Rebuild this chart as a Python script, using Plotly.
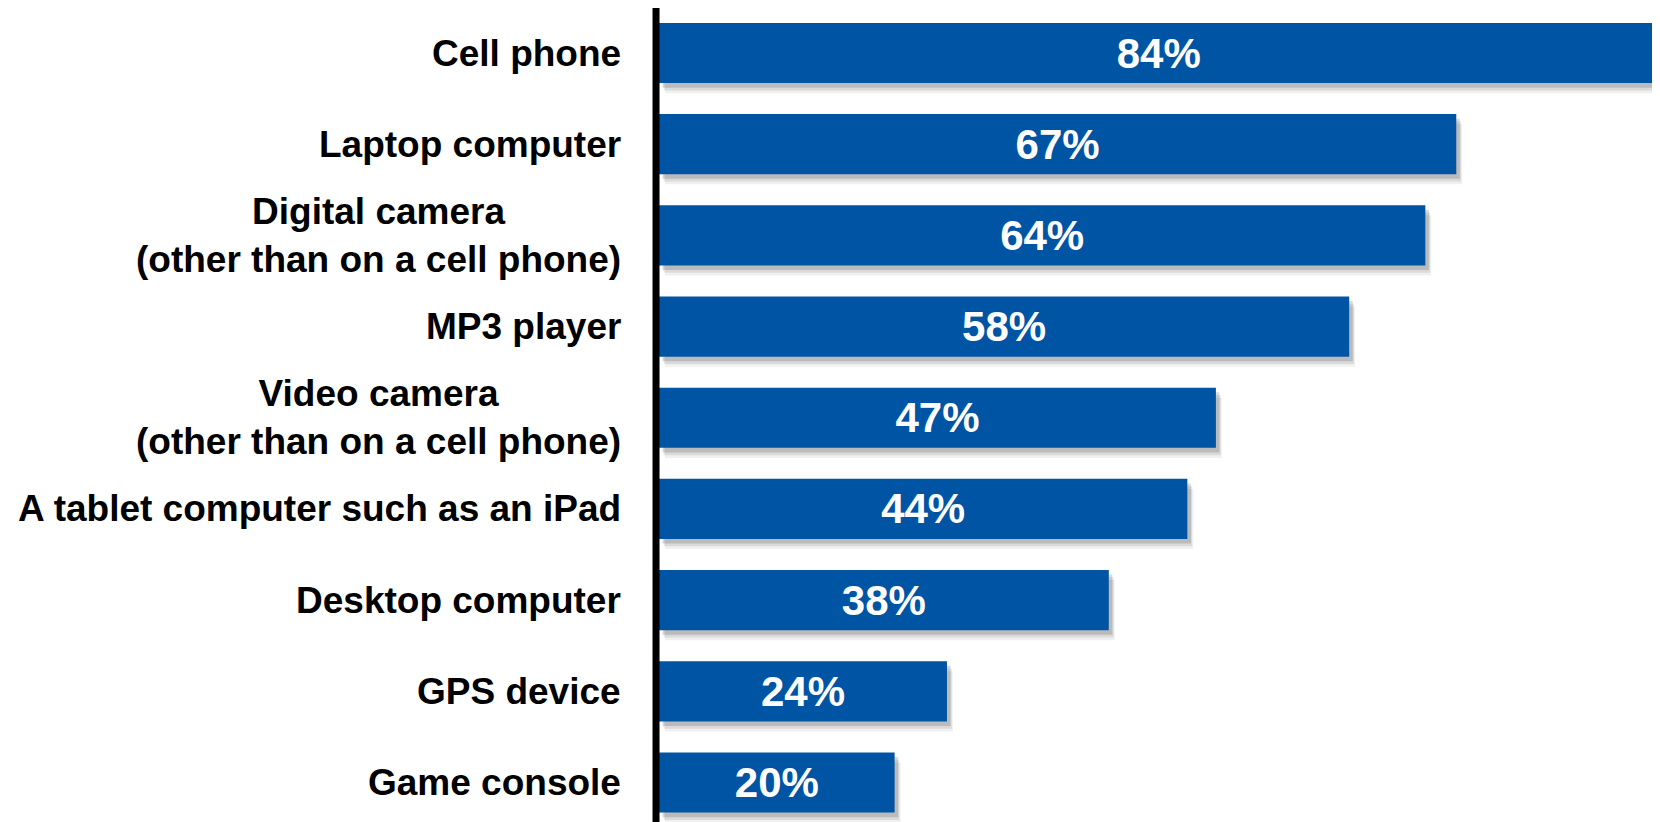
import plotly.graph_objects as go

categories = [
    "Cell phone",
    "Laptop computer",
    "Digital camera<br>(other than on a cell phone)",
    "MP3 player",
    "Video camera<br>(other than on a cell phone)",
    "A tablet computer such as an iPad",
    "Desktop computer",
    "GPS device",
    "Game console",
]
# bar lengths (labels show the rounded figures)
values = [84.0, 67.0, 64.4, 58.0, 46.8, 44.4, 37.8, 24.2, 19.8]
value_labels = ["84%", "67%", "64%", "58%", "47%", "44%", "38%", "24%", "20%"]

blue = "#0054A4"
font = "Liberation Sans, Arial, sans-serif"
bar_w = 0.66

traces = []
# soft drop shadow under each bar (layered, fading)
for shift, base, alpha in [(0.11, 0.5, 0.06), (0.08, 0.4, 0.09), (0.05, 0.3, 0.14)]:
    traces.append(go.Bar(
        y=categories, x=values, orientation="h", base=base,
        width=bar_w, offset=-bar_w / 2 + shift,
        marker=dict(color=f"rgba(0,0,0,{alpha})", line=dict(width=0)),
        hoverinfo="skip", showlegend=False,
    ))
traces.append(go.Bar(
    y=categories, x=values, orientation="h",
    width=bar_w,
    marker=dict(color=blue, line=dict(width=0)),
    text=value_labels, textposition="inside", insidetextanchor="middle",
    constraintext="none",
    textfont=dict(family=font, size=42, color="white", weight="bold"),
    showlegend=False,
))

fig = go.Figure(data=traces)

# category labels, centred lines, right edge near the axis
for c in categories:
    fig.add_annotation(
        x=-0.0247, y=c, xref="paper", yref="y", text=c,
        xanchor="right", yanchor="middle", align="center", showarrow=False,
        font=dict(family=font, size=37, color="black", weight="bold"),
    )

# thick black axis line
fig.add_shape(
    type="line", xref="x", yref="paper", x0=-0.25, x1=-0.25, y0=0, y1=1,
    line=dict(color="black", width=7),
)

fig.update_layout(
    width=1652, height=814,
    margin=dict(l=640, r=0, t=0, b=0),
    paper_bgcolor="white", plot_bgcolor="white",
    barmode="overlay",
    xaxis=dict(range=[-0.924, 84.12], visible=False),
    yaxis=dict(
        type="category", categoryorder="array", categoryarray=categories,
        range=[8.433, -0.4935], visible=False,
    ),
)

fig.write_html("out.html")
